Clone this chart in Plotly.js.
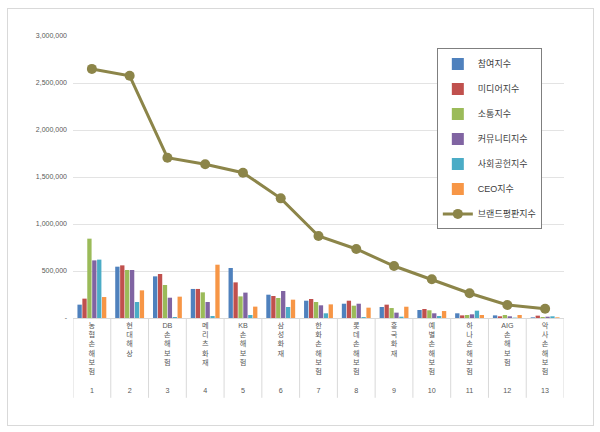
<!DOCTYPE html>
<html>
<head>
<meta charset="utf-8">
<script src="https://cdn.plot.ly/plotly-3.0.1.min.js"></script>
<style>
  body { margin: 0; background: #ffffff; }
  #wrap { position: relative; width: 600px; height: 432px; }
  #frame {
    position: absolute; left: 7px; top: 8px; width: 585px; height: 416px;
    border: 1px solid #d9d9d9; pointer-events: none;
  }
</style>
</head>
<body>
<div id="wrap">
  <div id="plot" style="width:600px;height:432px;"></div>
  <div id="frame"></div>
</div>
<script>
// companies in rank order
const companies = ["농협손해보험", "현대해상", "DB손해보험", "메리츠화재", "KB손해보험", "삼성화재",
  "한화손해보험", "롯데손해보험", "흥국화재", "예별손해보험", "하나손해보험", "AIG손해보험", "악사손해보험"];
const ranks = ["1", "2", "3", "4", "5", "6", "7", "8", "9", "10", "11", "12", "13"];

const participation = [142000, 546000, 443000, 309000, 532000, 248000, 184000, 152000, 117000, 85000, 50000, 28000, 7000];
const media = [206000, 560000, 468000, 309000, 379000, 234000, 202000, 184000, 142000, 96000, 28000, 18000, 25000];
const communication = [844000, 511000, 351000, 273000, 230000, 213000, 170000, 131000, 106000, 82000, 32000, 32000, 11000];
const community = [613000, 511000, 216000, 170000, 270000, 287000, 135000, 152000, 57000, 50000, 39000, 18000, 14000];
const socialContribution = [621000, 170000, 11000, 21000, 32000, 117000, 50000, 10000, 14000, 21000, 78000, 4000, 18000];
const ceo = [223000, 294000, 227000, 567000, 121000, 195000, 145000, 110000, 120000, 74000, 32000, 32000, 7000];
const brandIndex = [2650000, 2577000, 1705000, 1635000, 1546000, 1273000, 872000, 734000, 553000, 412000, 263000, 138000, 99000];

const yTickVals = [0, 500000, 1000000, 1500000, 2000000, 2500000, 3000000];
const yTickText = ["-", "500,000", "1,000,000", "1,500,000", "2,000,000", "2,500,000", "3,000,000"];

const barSeries = [
  { name: "참여지수", values: participation, color: "#4f81bd" },
  { name: "미디어지수", values: media, color: "#c0504d" },
  { name: "소통지수", values: communication, color: "#9bbb59" },
  { name: "커뮤니티지수", values: community, color: "#8064a2" },
  { name: "사회공헌지수", values: socialContribution, color: "#4bacc6" },
  { name: "CEO지수", values: ceo, color: "#f79646" }
];

const font = "Liberation Sans, Noto Sans CJK KR, sans-serif";

// vertical stacked category labels: one glyph per line, latin runs kept together,
// padded to six lines so the rank row lines up
function stackedLabel(name, rank) {
  const parts = name.match(/[A-Za-z]+|./g);
  while (parts.length < 6) {
    parts.push("");
  }
  return parts.join("<br>") + "<br><br>" + rank;
}
const xTickText = companies.map((c, i) => stackedLabel(c, ranks[i]));
const xIdx = companies.map((c, i) => i);

const data = [];
barSeries.forEach(function(s, i) {
  data.push({
    type: "bar",
    x: xIdx,
    y: s.values,
    name: s.name,
    legendgroup: "g" + i,
    marker: { color: s.color }
  });
});
data.push({
  type: "scatter",
  mode: "lines+markers",
  x: xIdx,
  y: brandIndex,
  name: "브랜드평판지수",
  legendgroup: "g6",
  line: { color: "#8c8549", width: 3 },
  marker: { color: "#8c8549", size: 10 }
});

// category dividers below the axis
const shapes = [];
for (let i = 0; i <= companies.length; i++) {
  shapes.push({
    type: "line",
    xref: "x", yref: "paper",
    x0: i - 0.5, x1: i - 0.5,
    y0: 0, y1: -0.283,
    line: { color: "#d9d9d9", width: 1 }
  });
}

const layout = {
  width: 600,
  height: 432,
  margin: { l: 73, r: 36, t: 36, b: 114 },
  paper_bgcolor: "#ffffff",
  plot_bgcolor: "#ffffff",
  font: { family: font, color: "#595959", size: 7 },
  barmode: "group",
  bargap: 0.22,
  bargroupgap: 0.12,
  showlegend: true,
  legend: {
    x: 0.741, y: 0.956,
    xanchor: "left", yanchor: "top",
    bordercolor: "#7f7f7f",
    borderwidth: 1,
    bgcolor: "#ffffff",
    font: { family: font, size: 9, color: "#404040" },
    itemwidth: 30,
    traceorder: "grouped",
    tracegroupgap: 6
  },
  xaxis: {
    type: "linear",
    range: [-0.5, companies.length - 0.5],
    tickvals: xIdx,
    ticktext: xTickText,
    tickfont: { family: font, size: 7.2, color: "#595959" },
    showgrid: false,
    zeroline: false,
    showline: true,
    linecolor: "#d9d9d9",
    ticks: "",
    fixedrange: true
  },
  yaxis: {
    range: [0, 3000000],
    tickvals: yTickVals,
    ticktext: yTickText,
    tickfont: { family: font, size: 7, color: "#595959" },
    showgrid: true,
    gridcolor: "#e3e3e3",
    gridwidth: 1,
    zeroline: false,
    showline: false,
    ticks: "",
    ticklabelstandoff: 5,
    fixedrange: true
  },
  shapes: shapes
};

Plotly.newPlot(document.getElementById("plot"), data, layout, { displayModeBar: false, staticPlot: true });
</script>
</body>
</html>
